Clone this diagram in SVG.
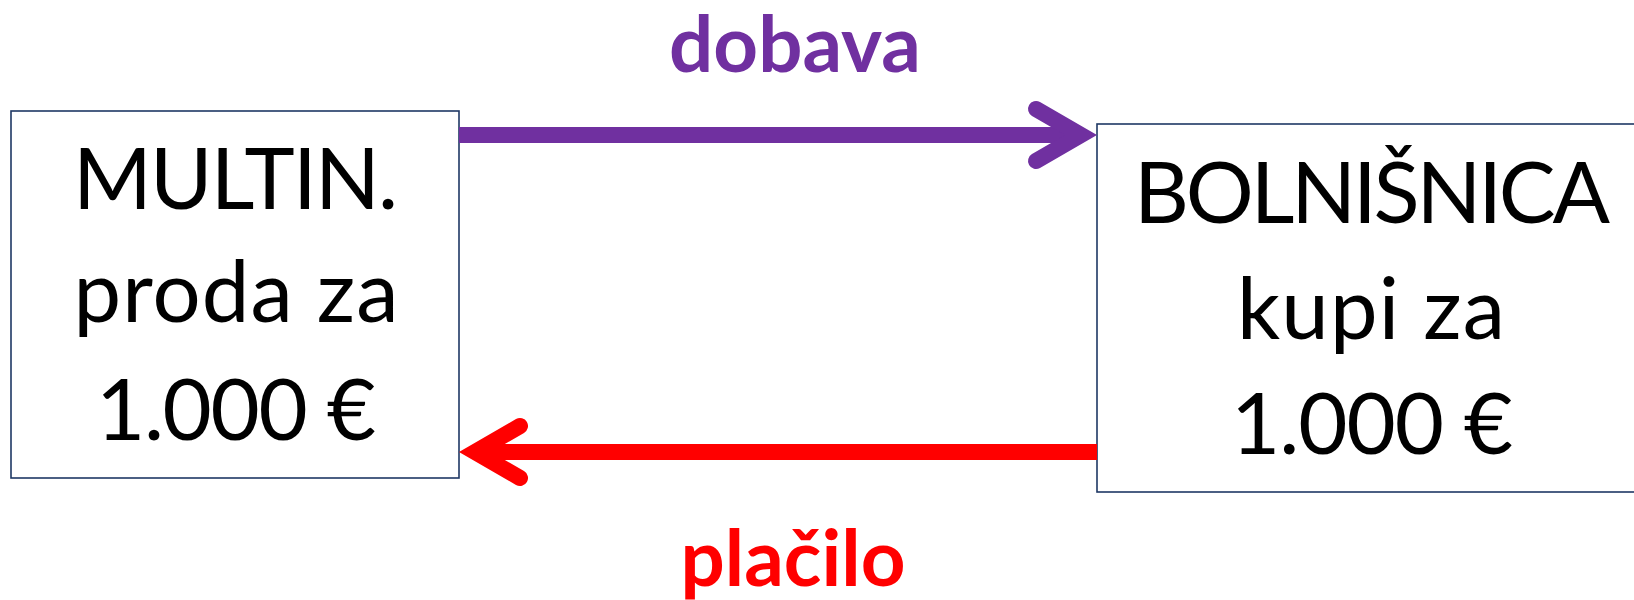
<svg xmlns="http://www.w3.org/2000/svg" width="1634" height="600" viewBox="0 0 1634 600">
<style>
.box{fill:#fff;stroke:#1F3864;stroke-width:1.6}
.t{font-family:Lato,"Liberation Sans",sans-serif;font-size:85px;fill:#000;text-anchor:middle}
.lbl{font-family:Lato,"Liberation Sans",sans-serif;font-weight:bold;font-size:78px;text-anchor:middle}
.conn{fill:none;stroke-width:16}
</style>
<defs>
<marker id="mP" markerUnits="userSpaceOnUse" orient="auto" refX="0" refY="0" markerWidth="80" markerHeight="80" viewBox="-60 -40 80 80" overflow="visible">
<path d="M-45,-26 L0,0 L-45,26" fill="none" stroke="#7030A0" stroke-width="16" stroke-linecap="round" stroke-linejoin="miter"/>
</marker>
<marker id="mR" markerUnits="userSpaceOnUse" orient="auto" refX="0" refY="0" markerWidth="80" markerHeight="80" viewBox="-60 -40 80 80" overflow="visible">
<path d="M-45,-26 L0,0 L-45,26" fill="none" stroke="#FF0000" stroke-width="16" stroke-linecap="round" stroke-linejoin="miter"/>
</marker>
</defs>
<g id="multin">
<rect class="box" x="11" y="111" width="448" height="367"/>
<text class="t" x="235.5" y="209" textLength="325">MULTIN.</text>
<text class="t" x="236" y="322" textLength="325">proda za</text>
<text class="t" x="236" y="440" textLength="280">1.000 €</text>
</g>
<g id="bolnisnica">
<rect class="box" x="1097" y="124" width="560" height="368"/>
<text class="t" x="1372" y="223" textLength="476">BOLNIŠNICA</text>
<text class="t" x="1371" y="339" textLength="268">kupi za</text>
<text class="t" x="1372" y="454" textLength="282">1.000 €</text>
</g>
<g id="connectors">
<path class="conn" d="M459,135 H1081" stroke="#7030A0" marker-end="url(#mP)"/>
<path class="conn" d="M1097,452 H475" stroke="#FF0000" marker-end="url(#mR)"/>
<text class="lbl" x="795" y="72" fill="#7030A0">dobava</text>
<text class="lbl" x="793" y="586" fill="#FF0000">plačilo</text>
</g>
</svg>
